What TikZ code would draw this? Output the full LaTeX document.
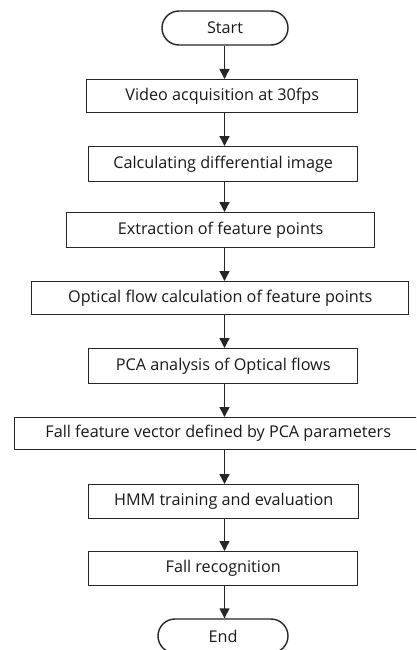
\documentclass[tikz,border=0pt]{standalone}
\usepackage{fontspec}
\setmainfont{Open Sans}
\usetikzlibrary{arrows.meta,shapes.misc}
\begin{document}
\begin{tikzpicture}[x=1pt,y=-1pt,
  every node/.style={font=\fontsize{16.2}{18}\selectfont, text=black!90},
  procbox/.style={draw=black!85, line width=1.4pt, inner sep=0pt, anchor=north west},
  termbox/.style={draw=black!85, line width=1.4pt, rounded rectangle, inner sep=0pt},
  arr/.style={draw=black!85, line width=1.4pt, -{Triangle[length=10pt,width=10pt]}}]
\useasboundingbox (0,0) rectangle (416,650);
\clip (0,0) rectangle (416,650);
\node[termbox, minimum width=126pt, minimum height=34pt] (start) at (225,28) {Start};
\node[procbox, minimum width=271pt, minimum height=33pt] (video) at (86,79) {Video acquisition at 30fps};
\node[procbox, minimum width=269pt, minimum height=35pt] (calc) at (88,146) {Calculating differential image};
\node[procbox, minimum width=308pt, minimum height=35pt] (extr) at (66,212) {Extraction of feature points};
\node[procbox, minimum width=377pt, minimum height=33pt] (opt) at (31,281) {Optical flow calculation of feature points};
\node[procbox, minimum width=269pt, minimum height=35pt] (pca) at (88,348) {PCA analysis of Optical flows};
\node[procbox, minimum width=407pt, minimum height=32pt] (fvec) at (14,417) {Fall feature vector defined by PCA parameters};
\node[procbox, minimum width=270pt, minimum height=34pt] (hmm) at (88,484) {HMM training and evaluation};
\node[procbox, minimum width=269pt, minimum height=34pt] (rec) at (88,551) {Fall recognition};
\node[termbox, minimum width=130pt, minimum height=34pt] (end) at (223,636) {End};
\coordinate (ax) at (224.5,0);
\draw[arr] (ax |- start.south) -- (ax |- video.north);
\draw[arr] (ax |- video.south) -- (ax |- calc.north);
\draw[arr] (ax |- calc.south) -- (ax |- extr.north);
\draw[arr] (ax |- extr.south) -- (ax |- opt.north);
\draw[arr] (ax |- opt.south) -- (ax |- pca.north);
\draw[arr] (ax |- pca.south) -- (ax |- fvec.north);
\draw[arr] (ax |- fvec.south) -- (ax |- hmm.north);
\draw[arr] (ax |- hmm.south) -- (ax |- rec.north);
\draw[arr] (ax |- rec.south) -- (ax |- end.north);
\end{tikzpicture}
\end{document}
